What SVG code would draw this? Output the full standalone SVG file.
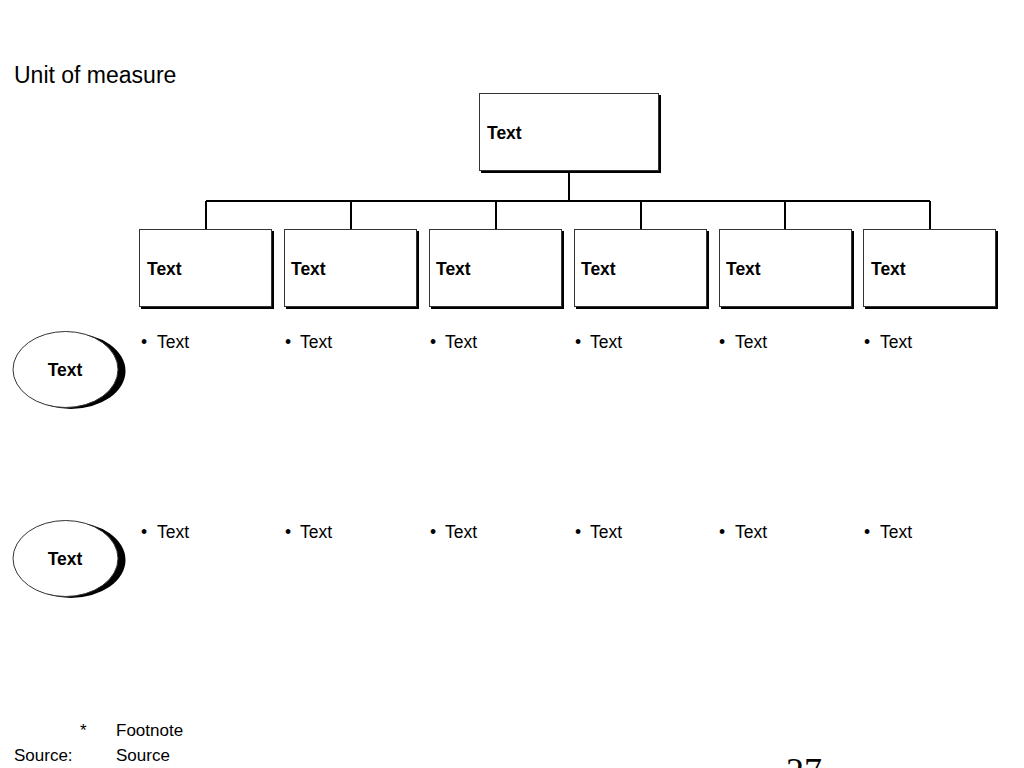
<svg xmlns="http://www.w3.org/2000/svg" width="1024" height="768" viewBox="0 0 1024 768">
<defs>
<style>
.box{fill:#fff;stroke:#333;stroke-width:1}
.sh{fill:#000}
.lbl{font-family:"Liberation Sans",Arial,sans-serif;font-size:17.5px;font-weight:bold;fill:#000}
.txt{font-family:"Liberation Sans",Arial,sans-serif;font-size:17.5px;fill:#000}
.conn{fill:none;stroke:#000;stroke-width:2}
</style>
</defs>
<rect width="1024" height="768" fill="#fff"/>
<text class="txt" x="14" y="83" style="font-size:23px">Unit of measure</text>
<g id="connectors">
<path class="conn" d="M569,172 V201 M206,201 H930 M206,201 V229 M351,201 V229 M496,201 V229 M641,201 V229 M785,201 V229 M930,201 V229"/>
</g>
<g id="top">
<rect class="sh" x="481" y="95" width="180" height="78"/>
<rect class="box" x="479.5" y="93.5" width="179" height="77"/>
<text class="lbl" x="487" y="139">Text</text>
</g>
<g id="c1">
<rect class="sh" x="141" y="231" width="133" height="78"/>
<rect class="box" x="139.5" y="229.5" width="132" height="77"/>
<text class="lbl" x="147" y="275">Text</text>
</g>
<g id="c2">
<rect class="sh" x="286" y="231" width="133" height="78"/>
<rect class="box" x="284.5" y="229.5" width="132" height="77"/>
<text class="lbl" x="291" y="275">Text</text>
</g>
<g id="c3">
<rect class="sh" x="431" y="231" width="133" height="78"/>
<rect class="box" x="429.5" y="229.5" width="132" height="77"/>
<text class="lbl" x="436" y="275">Text</text>
</g>
<g id="c4">
<rect class="sh" x="576" y="231" width="133" height="78"/>
<rect class="box" x="574.5" y="229.5" width="132" height="77"/>
<text class="lbl" x="581" y="275">Text</text>
</g>
<g id="c5">
<rect class="sh" x="721" y="231" width="133" height="78"/>
<rect class="box" x="719.5" y="229.5" width="132" height="77"/>
<text class="lbl" x="726" y="275">Text</text>
</g>
<g id="c6">
<rect class="sh" x="865" y="231" width="133" height="78"/>
<rect class="box" x="863.5" y="229.5" width="132" height="77"/>
<text class="lbl" x="871" y="275">Text</text>
</g>
<g id="e1">
<ellipse class="sh" cx="71" cy="371" rx="54.5" ry="38"/>
<ellipse class="box" cx="65.5" cy="369.5" rx="52.5" ry="38"/>
<text class="lbl" x="65" y="376" text-anchor="middle">Text</text>
</g>
<g id="e2">
<ellipse class="sh" cx="71" cy="560" rx="54.5" ry="38"/>
<ellipse class="box" cx="65.5" cy="558.5" rx="52.5" ry="38"/>
<text class="lbl" x="65" y="565" text-anchor="middle">Text</text>
</g>
<g id="bullets" class="txt">
<text x="141" y="348">•<tspan x="157">Text</tspan></text>
<text x="285" y="348">•<tspan x="300">Text</tspan></text>
<text x="430" y="348">•<tspan x="445">Text</tspan></text>
<text x="575" y="348">•<tspan x="590">Text</tspan></text>
<text x="719" y="348">•<tspan x="735">Text</tspan></text>
<text x="864" y="348">•<tspan x="880">Text</tspan></text>
<text x="141" y="538">•<tspan x="157">Text</tspan></text>
<text x="285" y="538">•<tspan x="300">Text</tspan></text>
<text x="430" y="538">•<tspan x="445">Text</tspan></text>
<text x="575" y="538">•<tspan x="590">Text</tspan></text>
<text x="719" y="538">•<tspan x="735">Text</tspan></text>
<text x="864" y="538">•<tspan x="880">Text</tspan></text>
</g>
<g id="footer" class="txt" style="font-size:17px">
<text x="80" y="736">*</text>
<text x="116" y="736">Footnote</text>
<text x="14" y="761">Source:</text>
<text x="116" y="761">Source</text>
</g>
<text x="786" y="783" style="font-family:'Liberation Serif','Times New Roman',serif;font-size:36px">27</text>
</svg>
